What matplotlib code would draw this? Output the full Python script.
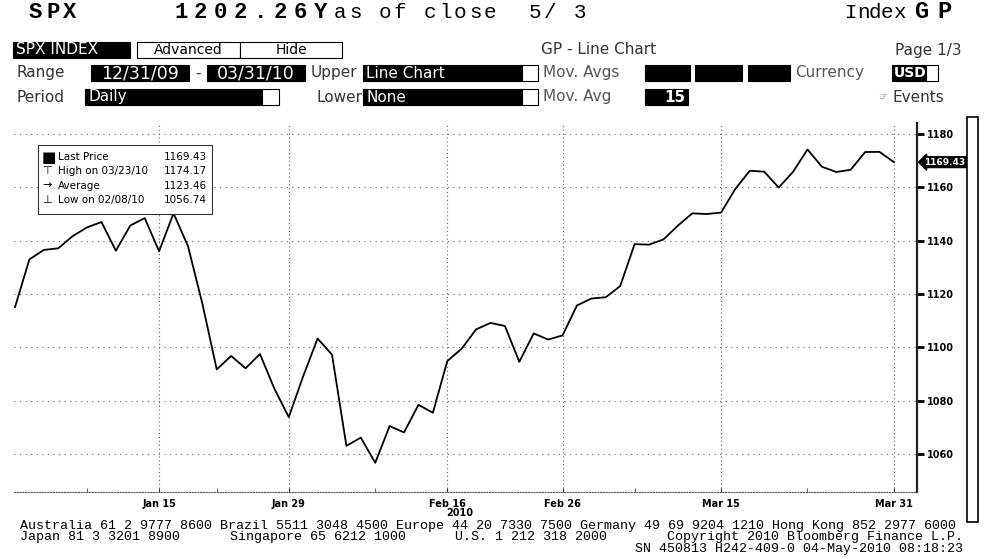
import matplotlib
matplotlib.use("Agg")
import matplotlib.pyplot as plt
from matplotlib.patches import Rectangle
from matplotlib.transforms import blended_transform_factory

# ---- data: SPX daily closes, 12/31/09 - 03/31/10 (one point per trading day) ----
dates = ["2009-12-31",
         "2010-01-04", "2010-01-05", "2010-01-06", "2010-01-07", "2010-01-08",
         "2010-01-11", "2010-01-12", "2010-01-13", "2010-01-14", "2010-01-15",
         "2010-01-19", "2010-01-20", "2010-01-21", "2010-01-22",
         "2010-01-25", "2010-01-26", "2010-01-27", "2010-01-28", "2010-01-29",
         "2010-02-01", "2010-02-02", "2010-02-03", "2010-02-04", "2010-02-05",
         "2010-02-08", "2010-02-09", "2010-02-10", "2010-02-11", "2010-02-12",
         "2010-02-16", "2010-02-17", "2010-02-18", "2010-02-19",
         "2010-02-22", "2010-02-23", "2010-02-24", "2010-02-25", "2010-02-26",
         "2010-03-01", "2010-03-02", "2010-03-03", "2010-03-04", "2010-03-05",
         "2010-03-08", "2010-03-09", "2010-03-10", "2010-03-11", "2010-03-12",
         "2010-03-15", "2010-03-16", "2010-03-17", "2010-03-18", "2010-03-19",
         "2010-03-22", "2010-03-23", "2010-03-24", "2010-03-25", "2010-03-26",
         "2010-03-29", "2010-03-30", "2010-03-31"]
closes = [1115.10,
          1132.99, 1136.52, 1137.14, 1141.69, 1144.98,
          1146.98, 1136.22, 1145.68, 1148.46, 1136.03,
          1150.23, 1138.04, 1116.48, 1091.76,
          1096.78, 1092.17, 1097.50, 1084.53, 1073.87,
          1089.19, 1103.32, 1097.28, 1063.11, 1066.19,
          1056.74, 1070.52, 1068.13, 1078.47, 1075.51,
          1094.87, 1099.51, 1106.75, 1109.17,
          1108.01, 1094.60, 1105.24, 1102.94, 1104.49,
          1115.71, 1118.31, 1118.79, 1122.97, 1138.70,
          1138.50, 1140.45, 1145.61, 1150.24, 1149.99,
          1150.51, 1159.46, 1166.21, 1165.83, 1159.90,
          1165.81, 1174.17, 1167.72, 1165.73, 1166.59,
          1173.22, 1173.27, 1169.43]

tick_dates = ["2010-01-15", "2010-01-29", "2010-02-16", "2010-02-26", "2010-03-15", "2010-03-31"]
tick_labels = ["Jan 15", "Jan 29", "Feb 16", "Feb 26", "Mar 15", "Mar 31"]
minor_dates = ["2010-01-08", "2010-01-22", "2010-02-08", "2010-03-05", "2010-03-23"]
y_ticks = [1060, 1080, 1100, 1120, 1140, 1160, 1180]

legend_names = ["Last Price", "High on 03/23/10", "Average", "Low on 02/08/10"]
legend_values = ["1169.43", "1174.17", "1123.46", "1056.74"]
legend_marks = ["\u25A0", "\u22A4", "\u2192", "\u22A5"]

W, H = 993, 559
fig = plt.figure(figsize=(W / 100, H / 100), dpi=100)
fig.patch.set_facecolor("white")

# ---- main chart ----
ax = fig.add_axes([14 / W, 1 - 492 / H, (917 - 14) / W, (492 - 123) / H])
x = list(range(len(closes)))
ax.plot(x, closes, color="black", lw=1.3, zorder=3)
ax.set_xlim(-0.07, 62.6)
ax.set_ylim(1045.8, 1184.1)

for yv in y_ticks:
    ax.axhline(yv, color="#666666", lw=0.8, ls=(0, (1, 4)), zorder=1)
xt = [dates.index(d) for d in tick_dates]
for xv in xt:
    ax.axvline(xv, color="#666666", lw=0.8, ls=(0, (1, 2.5)), zorder=1)

ax.yaxis.tick_right()
ax.set_yticks(y_ticks)
ax.set_yticklabels([str(v) for v in y_ticks], fontsize=7, fontweight="bold")
ax.tick_params(axis="y", direction="out", length=5, width=2, pad=2)
ax.set_xticks(xt)
ax.set_xticklabels(tick_labels, fontsize=7, fontweight="bold")
ax.set_xticks([dates.index(d) for d in minor_dates], minor=True)
ax.tick_params(axis="x", which="major", length=3, width=0.8, direction="in", pad=5, colors="#333333")
ax.tick_params(axis="x", which="minor", length=3, width=0.8, direction="in", color="#666666")
for lab in ax.get_xticklabels():
    lab.set_color("black")

for s in ["top", "left"]:
    ax.spines[s].set_visible(False)
ax.spines["bottom"].set_linestyle((0, (1, 1.5)))
ax.spines["bottom"].set_color("#555555")
ax.spines["right"].set_linewidth(1.6)
ax.spines["right"].set_color("#222222")

bt = blended_transform_factory(ax.transData, ax.transAxes)
ax.text(dates.index("2010-02-16") + 0.9, -0.058, "2010", transform=bt,
        ha="center", va="center", fontsize=7, fontweight="bold")

rt = blended_transform_factory(ax.transAxes, ax.transData)
ax.text(1.008, closes[-1], f"{closes[-1]:.2f}", transform=rt, ha="left", va="center",
        color="white", fontsize=6.5, fontweight="bold",
        bbox=dict(boxstyle="larrow,pad=0.1", fc="black", ec="black"))

# ---- overlay in pixel coordinates for the terminal chrome ----
ov = fig.add_axes([0, 0, 1, 1], zorder=5)
ov.set_xlim(0, W)
ov.set_ylim(H, 0)
ov.axis("off")
ov.patch.set_alpha(0)


def box(x0, x1, y0, y1, fc="black", ec="black", lw=0.8):
    ov.add_patch(Rectangle((x0, y0), x1 - x0, y1 - y0, fc=fc, ec=ec, lw=lw))


def label(xp, yp, s, **kw):
    kw.setdefault("fontsize", 11)
    kw.setdefault("family", "DejaVu Sans")
    ov.text(xp, yp, s, va="center", **kw)


def spaced(xp, yp, s, step, **kw):
    for i, c in enumerate(s):
        ov.text(xp + i * step, yp, c, ha="left", va="center", family="Liberation Mono", **kw)


# header line
spaced(29, 12, "SPX", 17, fontsize=16, fontweight="bold")
spaced(174, 12, "1202.26Y", 20, fontsize=16, fontweight="bold")
spaced(334, 13, "as of close  5/ 3", 15, fontsize=15)
spaced(845, 13, "Index", 12, fontsize=15)
spaced(914, 12, "GP", 23, fontsize=17, fontweight="bold")

# row 1
box(13, 130, 42, 58)
label(16, 50, "SPX INDEX", color="white")
box(137, 240, 42, 58, fc="white")
label(188, 50, "Advanced", ha="center", fontsize=10)
box(240, 342, 42, 58, fc="white")
label(291, 50, "Hide", ha="center", fontsize=10)
label(541, 50, "GP - Line Chart", color="#333333")
label(962, 50, "Page 1/3", ha="right", color="#333333")

# row 2
label(16, 73, "Range", color="#333333")
box(91, 189, 65, 81)
label(140, 73, "12/31/09", ha="center", color="white", fontsize=12.5)
label(195, 73, "-", color="#333333")
box(207, 305, 65, 81)
label(256, 73, "03/31/10", ha="center", color="white", fontsize=12.5)
label(311, 73, "Upper", color="#333333")
box(363, 522, 65, 81)
label(366, 73, "Line Chart", color="white")
box(522, 538, 65, 81, fc="white")
label(543, 73, "Mov. Avgs", color="#555555")
box(645, 690, 65, 81)
box(695, 742, 65, 81)
box(748, 790, 65, 81)
label(795, 73, "Currency", color="#555555")
box(892, 926, 65, 81)
label(894, 73, "USD", color="white", fontweight="bold", fontsize=10)
box(926, 938, 65, 81, fc="white")

# row 3
label(16, 97, "Period", color="#333333")
box(85, 262, 89, 105)
label(88, 97, "Daily", color="white")
box(262, 279, 89, 105, fc="white")
label(316, 97, "Lower", color="#333333")
box(363, 522, 89, 105)
label(366, 97, "None", color="white")
box(522, 538, 89, 105, fc="white")
label(543, 97, "Mov. Avg", color="#555555")
box(645, 688, 89, 105)
label(685, 97, "15", ha="right", color="white", fontweight="bold")
label(878, 97, "\u261E", fontsize=7, color="#666666")
label(893, 97, "Events", color="#333333")

# scroll bar at the right
box(967, 978, 117, 522, fc="white", lw=1.2)

# legend box
box(38, 212, 145, 214, fc="white", ec="#333333", lw=0.8)
for i, (mk, nm, vl) in enumerate(zip(legend_marks, legend_names, legend_values)):
    yy = 157 + i * 14.3
    label(42, yy, mk, fontsize=11 if i == 0 else 8)
    label(58, yy, nm, fontsize=7.5)
    label(207, yy, vl, ha="right", fontsize=7.5)

# footer
foot = dict(family="Liberation Mono", fontsize=9.6)
label(20, 526, "Australia 61 2 9777 8600 Brazil 5511 3048 4500 Europe 44 20 7330 7500 "
               "Germany 49 69 9204 1210 Hong Kong 852 2977 6000", **foot)
label(20, 537, "Japan 81 3 3201 8900", **foot)
label(230, 537, "Singapore 65 6212 1000", **foot)
label(455, 537, "U.S. 1 212 318 2000", **foot)
label(963, 537, "Copyright 2010 Bloomberg Finance L.P.", ha="right", **foot)
label(963, 549, "SN 450813 H242-409-0 04-May-2010 08:18:23", ha="right", **foot)

fig.savefig("out.png", dpi=100, facecolor="white")
